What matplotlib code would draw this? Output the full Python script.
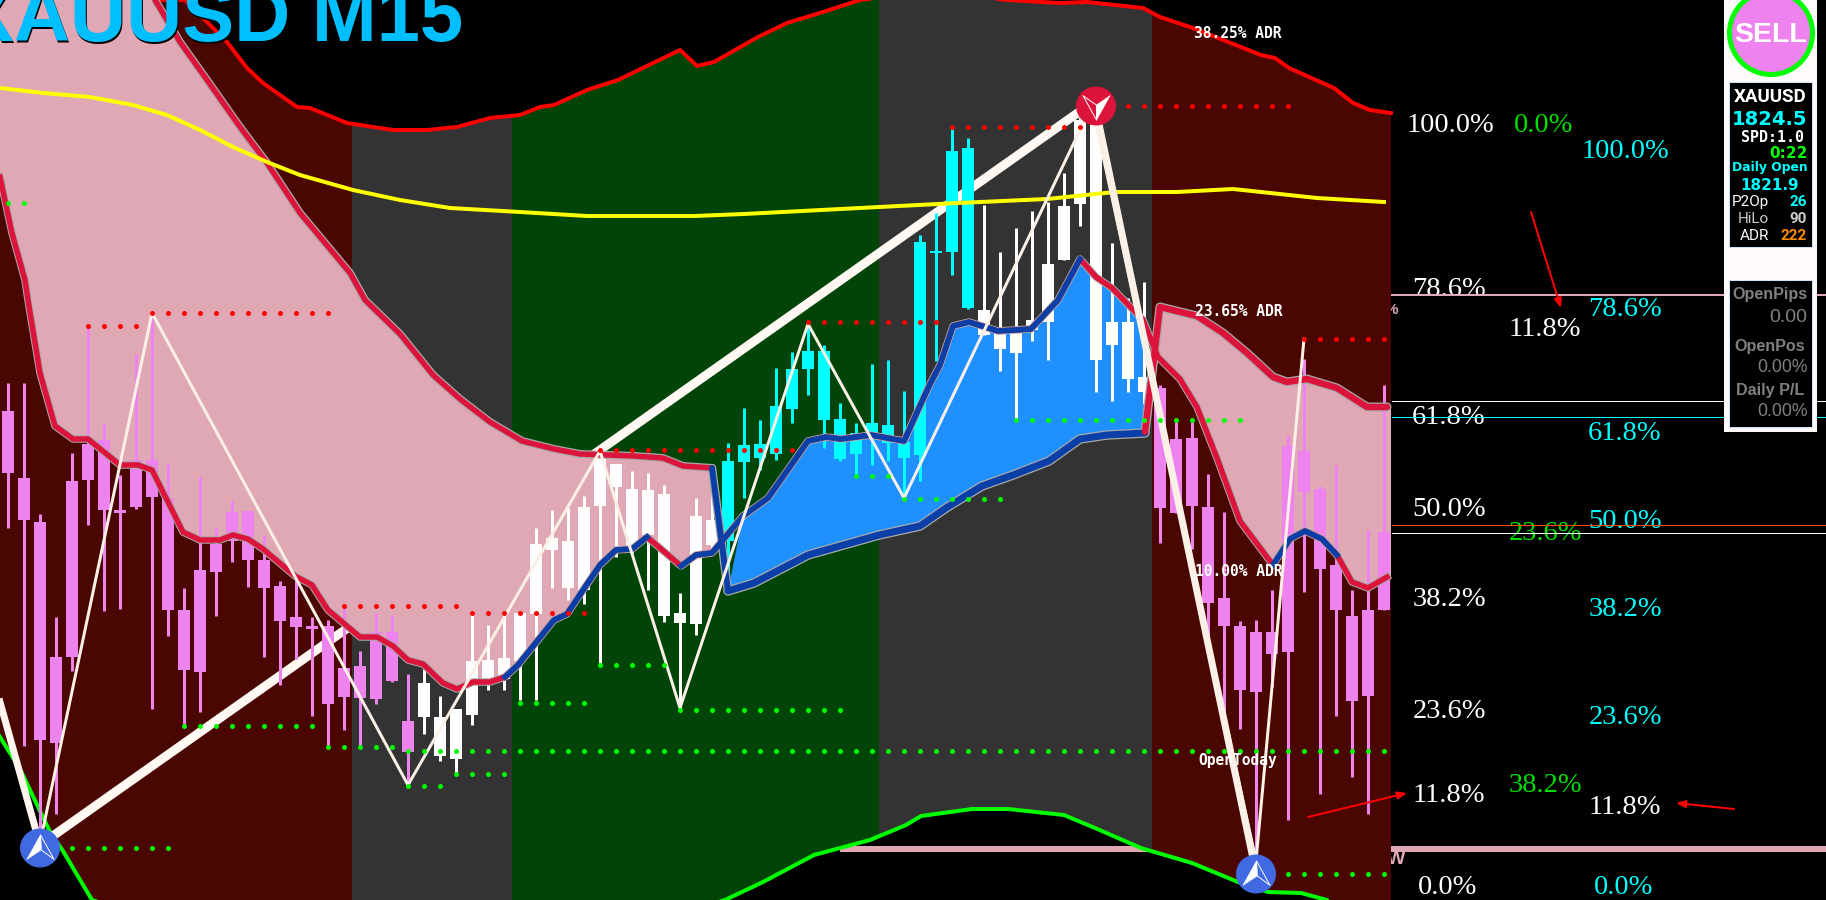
import numpy as np
import matplotlib
matplotlib.use("Agg")
import matplotlib.pyplot as plt
from matplotlib.patches import Polygon, Rectangle, Ellipse
from matplotlib.path import Path

# chart is a screenshot, so prices are kept as screen levels (row on the chart)
# candles, one per bar
wick_high = [383, 383, 514, 617, 453, 326, 424, 475, 354, 313, 463, 588, 477, 527, 501, 511, 535, 581, 579, 617, 620, 608,
             651, 613, 615, 674, 669, 696, 709, 614, 625, 617, 613, 528, 510, 508, 496, 451, 464, 471, 473, 485, 593, 498,
             470, 443, 408, 420, 368, 352, 326, 345, 403, 423, 364, 360, 391, 235, 213, 129, 138, 205, 252, 228, 211, 202,
             173, 117, 105, 243, 298, 282, 385, 422, 422, 474, 512, 621, 620, 590, 436, 359, 486, 465, 590, 530, 385]
body_top = [411, 478, 522, 657, 481, 444, 440, 510, 460, 460, 498, 610, 570, 544, 512, 511, 560, 586, 617, 626, 626, 668,
            666, 632, 632, 721, 683, 717, 709, 661, 660, 658, 613, 544, 538, 541, 507, 451, 464, 489, 490, 494, 613, 516,
            520, 461, 445, 444, 406, 369, 351, 351, 419, 433, 423, 425, 442, 242, 251, 151, 148, 310, 333, 333, 320, 264,
            206, 120, 125, 322, 322, 377, 388, 439, 438, 507, 598, 626, 632, 632, 446, 451, 489, 565, 616, 610, 532]
body_bottom = [473, 520, 740, 743, 657, 480, 510, 513, 507, 497, 610, 670, 672, 572, 541, 560, 588, 621, 627, 629, 704, 697,
               698, 699, 681, 752, 717, 756, 759, 715, 683, 679, 661, 614, 550, 588, 590, 506, 487, 547, 535, 616, 623, 624,
               545, 541, 462, 458, 454, 409, 369, 420, 459, 454, 435, 443, 458, 455, 253, 252, 308, 335, 349, 353, 330, 322,
               260, 204, 360, 345, 379, 392, 508, 513, 506, 603, 626, 690, 692, 654, 652, 492, 569, 610, 701, 696, 610]
wick_low = [528, 746, 847, 814, 671, 525, 611, 609, 509, 709, 636, 725, 712, 616, 562, 587, 657, 685, 659, 716, 746, 730,
            746, 704, 682, 785, 734, 761, 773, 725, 690, 690, 700, 700, 588, 600, 604, 663, 557, 553, 590, 622, 710, 635,
            555, 575, 498, 470, 460, 423, 395, 448, 461, 477, 465, 461, 496, 481, 361, 275, 309, 335, 371, 420, 341, 360,
            260, 226, 392, 401, 392, 404, 543, 513, 549, 636, 717, 729, 850, 687, 820, 592, 794, 716, 777, 814, 610]
candle_kind = ["down"] * 26 + ["side"] * 19 + ["up"] * 16 + ["side"] * 11 + ["down"] * 15

# session background edges
session_edges = [0, 352, 512, 879, 1152, 1391.5]
session_names = ["red", "grey", "green", "grey", "red"]

# ADR envelope
adr_top_x = [-5, 185, 227, 247, 263, 297, 310, 347, 393, 427, 457, 490, 520, 540, 554, 587, 618, 680, 697, 714, 758, 787,
             823, 860, 930, 1008, 1059, 1087, 1143, 1160, 1193, 1261, 1275, 1289, 1334, 1353, 1370, 1391]
adr_top_y = [0, 0, 42, 68, 83, 107, 108, 123, 130, 130, 127, 118, 115, 107, 105, 90, 80, 50, 66, 62, 37, 23,
             12, 0, -8, 0, 3, 2, 8, 17, 28, 55, 58, 68, 88, 103, 110, 113]
adr_bottom_x = [-5, 20, 50, 63, 92, 400, 725, 763, 814, 870, 906, 921, 972, 1008, 1064, 1095, 1141, 1192, 1238, 1268, 1301, 1327, 1391]
adr_bottom_y = [729, 769, 832, 851, 900, 1000, 900, 882, 855, 840, 825, 816, 809, 809, 815, 828, 848, 863, 882, 892, 893, 900, 1000]

# long moving average
ma_x = [0, 43, 90, 133, 167, 200, 233, 267, 300, 353, 400, 450, 520, 587, 694, 744, 879, 958, 1047, 1115, 1177, 1233, 1317, 1384]
ma_y = [88, 93, 97, 105, 115, 130, 147, 162, 175, 190, 200, 208, 212, 216, 216, 214, 207, 203, 199, 192, 192, 189, 198, 202]

# cloud edges
upper_x = [155, 180, 207, 240, 267, 300, 350, 365, 400, 433, 460, 490, 522, 554, 580, 634, 663, 683, 712]
upper_y = [0, 42, 80, 127, 163, 213, 273, 300, 334, 375, 399, 422, 441, 449, 454, 456, 458, 466, 468]
drop_x = [712, 728]
drop_y = [468, 591]
base_x = [728, 754, 808, 879, 920, 946, 982, 1013, 1049, 1080, 1107, 1145]
base_y = [591, 583, 555, 535, 526, 508, 486, 475, 461, 439, 435, 433]
right_upper_x = [1145, 1160, 1197, 1223, 1247, 1273, 1287, 1307, 1337, 1367, 1387]
right_upper_y = [432, 307, 316, 333, 353, 377, 382, 379, 388, 407, 407]
lower_x = [0, 12, 25, 28, 40, 55, 73, 88, 120, 138, 152, 183, 200, 220, 233, 248, 263, 295, 312, 328, 360, 377, 393, 408,
           423, 443, 457, 473, 490, 505, 518, 554, 567, 600, 616, 632, 647, 681, 696, 712, 743, 768, 808, 826, 841, 871,
           904, 929, 940, 953, 969, 998, 1031, 1058, 1080, 1096, 1112, 1143, 1158, 1180, 1197, 1217, 1240, 1273, 1290,
           1305, 1322, 1337, 1352, 1368, 1387]
lower_y = [177, 233, 280, 300, 373, 426, 439, 439, 465, 465, 470, 532, 540, 540, 535, 539, 549, 576, 585, 610, 637, 637,
           646, 660, 664, 683, 689, 682, 682, 677, 665, 620, 614, 565, 550, 549, 537, 566, 555, 553, 516, 498, 441, 437,
           439, 435, 441, 386, 365, 326, 322, 331, 329, 300, 259, 277, 288, 320, 357, 379, 407, 458, 521, 565, 539, 531,
           539, 555, 582, 588, 577]
lower_blue_spans = [(505, 647), (681, 1080), (1273, 1337)]

# zigzags
thick_up_x = [40, 1089]
thick_up_y = [845, 105]
thick_down_x = [-2, 40]
thick_down_y = [695, 845]
thick_down2_x = [1095, 1255]
thick_down2_y = [105, 868]
thin_x = [40, 152, 408, 600, 680, 808, 904, 1092, 1256, 1304]
thin_y = [843, 313, 785, 451, 708, 324, 498, 105, 861, 339]

# dotted swing levels: level, first bar, last bar
red_levels = [(326, 5, 8), (313, 9, 20), (606, 21, 28), (613, 29, 36), (450, 37, 49), (322, 50, 58),
              (127, 59, 67), (106, 68, 80), (339, 81, 86)]
green_levels = [(203, 0, 1), (848, 2, 10), (726, 11, 19), (747, 20, 24), (751, 25, 86), (786, 25, 27), (774, 28, 31),
                (703, 32, 36), (665, 37, 41), (710, 42, 52), (476, 53, 55), (499, 56, 62), (420, 63, 77), (874, 78, 86)]

# fib labels
fib_white = [("100.0%", 1450, 125), ("78.6%", 1449, 289), ("61.8%", 1449, 418), ("50.0%", 1449, 509),
             ("38.2%", 1449, 599), ("23.6%", 1449, 711), ("11.8%", 1449, 795), ("0.0%", 1448, 888),
             ("11.8%", 1545, 330), ("11.8%", 1625, 808)]
fib_cyan = [("100.0%", 1625, 151), ("78.6%", 1625, 309), ("61.8%", 1625, 434), ("50.0%", 1625, 522),
            ("38.2%", 1625, 609), ("23.6%", 1625, 718), ("0.0%", 1624, 888)]
fib_green = [("0.0%", 1544, 125), ("23.6%", 1545, 533), ("38.2%", 1545, 786)]
adr_labels = [("38.25% ADR", 1238, 33), ("23.65% ADR", 1239, 311), ("10.00% ADR", 1239, 571), ("OpenToday", 1238, 761)]

PINK = "#E0A8B5"
VIOLET = "#EE82EE"
CRIMSON = "#DC143C"
BLUE = "#0A3FA8"
GREY = "#A9A9A9"
LIME = "#00FF00"
PX = 0.72   # one pixel in points at dpi 100
session_colors = {"red": "#4A0600", "grey": "#333333", "green": "#004507"}
candle_colors = {"down": VIOLET, "side": "white", "up": "#00FFFF"}


def bar_x(i):
    return 8.3 + 16 * np.asarray(i)


fig = plt.figure(figsize=(18.26, 9), dpi=100, facecolor="black")
ax = fig.add_axes([0, 0, 1, 1], facecolor="black")
ax.set_xlim(0, 1826)
ax.set_ylim(900, 0)
ax.axis("off")

# pink line and cut off labels run behind the sessions
ax.plot([840, 1826], [849, 849], color=PINK, lw=6 * PX, solid_capstyle="butt", zorder=0.5)
ax.text(1391, 310, "%", color=PINK, fontsize=11, family="Liberation Sans", weight="bold", ha="center", va="center", zorder=0.8)
ax.text(1396, 860, "W", color=PINK, fontsize=14, family="Liberation Sans", weight="bold", ha="center", va="center", zorder=0.8)

# sessions clipped to the ADR envelope
clip_xy = list(zip(adr_top_x, adr_top_y)) + list(zip(adr_bottom_x, adr_bottom_y))[::-1]
clip_poly = Polygon(clip_xy, closed=True, transform=ax.transData)
for left, right, name in zip(session_edges[:-1], session_edges[1:], session_names):
    r = Rectangle((left, -20), right - left, 940, color=session_colors[name], lw=0, zorder=1)
    ax.add_patch(r)
    r.set_clip_path(clip_poly)

ax.plot(adr_top_x, adr_top_y, color="#FF0000", lw=4 * PX, zorder=1.5)
ax.plot(adr_bottom_x, adr_bottom_y, color=LIME, lw=4 * PX, zorder=1.5)
ax.plot(thick_up_x, thick_up_y, color="#FFF8F3", lw=9 * PX, zorder=2, solid_capstyle="butt")

# cloud fills
lx = np.array(lower_x, dtype=float)
ly = np.array(lower_y, dtype=float)
m = lx <= 712
ax.fill([0] + upper_x + list(lx[m][::-1]), [-5] + upper_y + list(ly[m][::-1]), color=PINK, lw=0, zorder=3)
m = (lx >= 743) & (lx <= 1143)
ax.fill(list(lx[m]) + base_x[::-1], list(ly[m]) + base_y[::-1], color="#1E90FF", lw=0, zorder=3)
m = lx >= 1158
ax.fill(right_upper_x[1:] + [1391, 1391] + list(lx[m][::-1]), right_upper_y[1:] + [407, 577] + list(ly[m][::-1]),
        color=PINK, lw=0, zorder=3)

# candles
xs = bar_x(np.arange(len(wick_high)))
for x, hi, top, bot, lo, kind in zip(xs, wick_high, body_top, body_bottom, wick_low, candle_kind):
    c = candle_colors[kind]
    ax.plot([x, x], [hi, lo], color=c, lw=3 * PX, solid_capstyle="butt", zorder=4)
    ax.add_patch(Rectangle((x - 6, top), 12, max(bot - top, 2), color=c, lw=0, zorder=4))

# cloud lines with grey halo
for px_, py_, col, w in [(upper_x, upper_y, CRIMSON, 5.5), (base_x, base_y, BLUE, 7), (drop_x, drop_y, BLUE, 6),
                         (right_upper_x, right_upper_y, CRIMSON, 6.5)]:
    ax.plot(px_, py_, color=GREY, lw=(w + 2.5) * PX, zorder=5, solid_capstyle="round")
    ax.plot(px_, py_, color=col, lw=w * PX, zorder=5.2, solid_capstyle="round")
ax.plot(lx, ly, color=GREY, lw=7.5 * PX, zorder=5)
ax.plot(lx, ly, color=CRIMSON, lw=5.5 * PX, zorder=5.2)
for a, b in lower_blue_spans:
    m = (lx >= a) & (lx <= b)
    ax.plot(lx[m], ly[m], color=BLUE, lw=5.5 * PX, zorder=5.3)

ax.plot(ma_x, ma_y, color="#FFFF00", lw=4 * PX, zorder=5.5)

# zigzag on top
ax.plot(thick_down_x, thick_down_y, color="#FFF5EE", lw=7 * PX, zorder=6, solid_capstyle="butt")
ax.plot(thick_down2_x, thick_down2_y, color="#FBF1E8", lw=7 * PX, zorder=6, solid_capstyle="butt")
ax.plot(thin_x, thin_y, color="#FAF0E6", lw=3 * PX, zorder=6.1)

# dotted levels
for levels, col in [(red_levels, "#FF0000"), (green_levels, LIME)]:
    for level, a, b in levels:
        bars = bar_x(np.arange(a, b + 1))
        ax.plot(bars, [level] * len(bars), ls="none", marker="o", ms=5 * PX, mfc=col, mec="none", zorder=7)

# swing markers
arrow_up = Path([(0, 1), (-1, -0.8), (0.05, -0.1), (0, 1)], closed=True)
arrow_side = Path([(0, 1), (1, -0.8), (0.05, -0.1), (0, 1)], closed=True)
arrow_dn = Path([(0, -1), (1, 0.8), (0, 0.1), (0, -1)], closed=True)
arrow_dn2 = Path([(0, -1), (-1, 0.8), (0, 0.1), (0, -1)], closed=True)
for cx, cy, col, solid, hollow in [(40, 848, "#4169E1", arrow_up, arrow_side), (1256, 874, "#4169E1", arrow_up, arrow_side),
                                   (1096, 106, CRIMSON, arrow_dn, arrow_dn2)]:
    ax.add_patch(Ellipse((cx, cy), 40, 39, color=col, lw=0, zorder=8))
    ax.plot([cx], [cy], marker=solid, ms=27 * PX, mfc="white", mec="white", mew=0.5, zorder=8.5)
    ax.plot([cx], [cy], marker=hollow, ms=27 * PX, mfc="none", mec="white", mew=0.7, zorder=8.5)

# right side level lines
ax.plot([1392, 1826], [295, 295], color=PINK, lw=2 * PX, zorder=8.7)
ax.plot([1392, 1826], [400.5, 400.5], color="white", lw=1 * PX, zorder=8.7)
ax.plot([1392, 1826], [416.5, 416.5], color="#00FFFF", lw=1 * PX, zorder=8.7)
ax.plot([1392, 1826], [524.5, 524.5], color="#FF4500", lw=1 * PX, zorder=8.7)
ax.plot([1392, 1826], [532.5, 532.5], color="white", lw=1 * PX, zorder=8.7)

# fib labels
for items, col in [(fib_white, "white"), (fib_cyan, "#00FFFF"), (fib_green, "#00E000")]:
    for s, x, y in items:
        ax.text(x, y, s, color=col, fontsize=20.5, family="Liberation Serif", ha="center", va="center", zorder=8.6)
for s, x, y in adr_labels:
    ax.text(x, y, s, color="white", fontsize=10.5, family="DejaVu Sans Mono", weight="bold", ha="center", va="center", zorder=9)

# hand drawn arrows
for (x0, y0), (x1, y1) in [((1531, 212), (1561, 308)), ((1308, 817), (1407, 793)), ((1734, 809), (1676, 803))]:
    ax.annotate("", xy=(x1, y1), xytext=(x0, y0), zorder=9,
                arrowprops=dict(arrowstyle="-|>,head_width=0.22,head_length=0.55", color="#FF0000", lw=2 * PX, shrinkA=0, shrinkB=0))

# title with a small black shadow
for dx, col in [(1.5, "black"), (0, "#00BFFF")]:
    ax.text(463 + dx, 41 + dx, "XAUUSD M15", color=col, fontsize=56, family="Liberation Sans", weight="bold",
            ha="right", va="baseline", zorder=9.5)

# info panel
ax.add_patch(Rectangle((1724, 0), 93, 432, color="#FFFAFA", lw=0, zorder=10))
ax.add_patch(Rectangle((1729, 82), 83, 165, facecolor="black", edgecolor="#CFE8FF", lw=0.7, zorder=10.1))
ax.add_patch(Rectangle((1729, 280), 83, 147, facecolor="black", edgecolor="#CFE8FF", lw=0.7, zorder=10.1))
ax.add_patch(Ellipse((1771, 33), 83, 83, facecolor=VIOLET, edgecolor=LIME, lw=5 * PX, zorder=10.2))
ax.text(1771, 35.5, "SELL", color="white", fontsize=20.5, family="Liberation Sans", weight="bold", ha="center", va="center", zorder=11)


def panel(x, y, s, col, size, fam="DejaVu Sans", weight="bold", ha="center"):
    ax.text(x, y, s, color=col, fontsize=size, family=fam, weight=weight, ha=ha, va="center", zorder=11)


panel(1770, 97, "XAUUSD", "white", 13.5, "Roboto")
panel(1770, 119.5, "1824.5", "#00FFFF", 14)
panel(1772, 137, "SPD:1.0", "white", 10.8, "DejaVu Sans Mono")
panel(1808, 153, "0:22", LIME, 11, ha="right")
panel(1770, 168, "Daily Open", "#00FFFF", 8.9)
panel(1770, 185, "1821.9", "#00FFFF", 11)
panel(1769, 202, "P2Op", "white", 11, "Roboto", "normal", "right")
panel(1807, 202, "26", "#00FFFF", 11, "Roboto", "bold", "right")
panel(1769, 219, "HiLo", "#CCCCCC", 11, "Roboto", "normal", "right")
panel(1807, 219, "90", "#CCCCCC", 11, "Roboto", "bold", "right")
panel(1769, 236, "ADR", "white", 11, "Roboto", "normal", "right")
panel(1807, 236, "222", "#FF8C00", 11, "Roboto", "bold", "right")
panel(1770, 294, "OpenPips", "#808080", 11.6, "Liberation Sans")
panel(1807, 318, "0.00", "#808080", 14, "Liberation Sans", "normal", "right")
panel(1770, 346, "OpenPos", "#808080", 11.6, "Liberation Sans")
panel(1808, 367, "0.00%", "#808080", 12.7, "Liberation Sans", "normal", "right")
panel(1770, 391, "Daily P/L", "#808080", 11.6, "Liberation Sans")
panel(1808, 412, "0.00%", "#808080", 12.7, "Liberation Sans", "normal", "right")

fig.savefig("out.png", dpi=100, facecolor="black")
